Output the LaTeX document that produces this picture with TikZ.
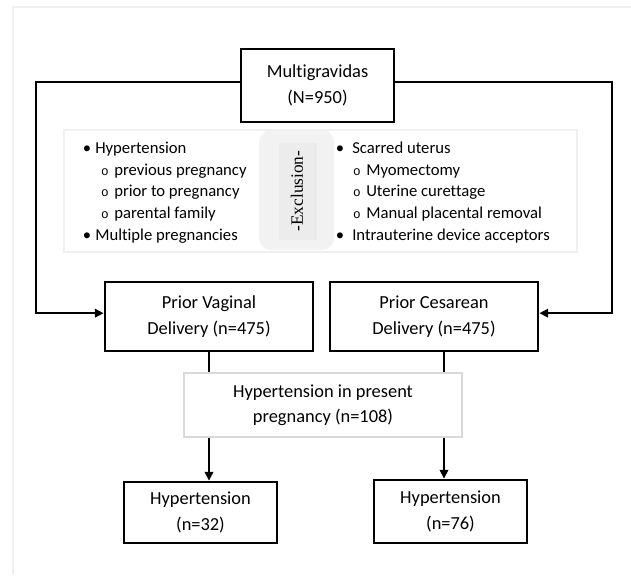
\documentclass[tikz,border=0pt]{standalone}
\usepackage{fontspec}
\setmainfont{Carlito}[Ligatures=NoCommon]
\newfontfamily\serifx{Liberation Serif}
\newfontfamily\monox{Liberation Mono}
\usetikzlibrary{arrows.meta}
\pgfdeclarelayer{bg}
\pgfsetlayers{bg,main}
\begin{document}
\begin{tikzpicture}[x=0.75pt,y=-0.75pt,
  boxtext/.style={font=\fontsize{13.8}{19}\selectfont, align=center, inner sep=0pt},
  flowbox/.style={boxtext, draw=black, line width=2.2pt, fill=white},
  graybox/.style={boxtext, draw=gray!30, line width=2pt, fill=white},
  conn/.style={draw=black, line width=1.1pt},
  arr/.style={conn, -{Triangle[length=6.5pt,width=6.5pt]}},
  listtext/.style={font=\fontsize{12.5}{15}\selectfont, anchor=base west, inner sep=0pt},
  bul/.style={font=\fontsize{12.5}{15}\selectfont, anchor=base, inner sep=0pt},
  subbul/.style={font=\monox\fontsize{9.5}{10}\selectfont, anchor=base, inner sep=0pt}
]
\useasboundingbox (0,0) rectangle (631,575);
% faint frame
\draw[gray!12, line width=1.2pt] (13,575) -- (13,7) -- (631,7);

% main nodes
\node[flowbox, minimum width=114.75pt, minimum height=54.75pt] (M) at (317.5,85.5) {Multigravidas\\(N=950)};
\node[flowbox, minimum width=156pt, minimum height=51.75pt] (PV) at (209,316.5) {Prior Vaginal\\Delivery (n=475)};
\node[flowbox, minimum width=156pt, minimum height=51.75pt] (PC) at (434,316.5) {Prior Cesarean\\Delivery (n=475)};
\node[graybox, minimum width=208.5pt, minimum height=48pt] (G) at (323,405) {Hypertension in present\\pregnancy (n=108)};
\node[flowbox, minimum width=114.75pt, minimum height=45.75pt] (H1) at (200.5,512.5) {Hypertension\\(n=32)};
\node[flowbox, minimum width=114.75pt, minimum height=47.25pt] (H2) at (450.5,511.5) {Hypertension\\(n=76)};

% exclusion panel
\draw[draw=gray!12, fill=white, line width=0.8pt] (64,130) rectangle (577,252);
\fill[gray!10, rounded corners=9pt] (259,130) rectangle (334,250);
\fill[gray!15] (279,143) rectangle (317,240);
\node[font=\serifx\fontsize{13}{15}\selectfont, rotate=90, inner sep=0pt] (EX) at (297,191) {-Exclusion-};

% left list
\node[bul] (lb1) at (87,153) {•};
\node[listtext] (lt1) at (95,153) {Hypertension};
\node[subbul] (ls2) at (105,175) {o};
\node[listtext] (lt2) at (114,175) {previous pregnancy};
\node[subbul] (ls3) at (105,196) {o};
\node[listtext] (lt3) at (114,196) {prior to pregnancy};
\node[subbul] (ls4) at (105,218) {o};
\node[listtext] (lt4) at (114,218) {parental family};
\node[bul] (lb5) at (87,240) {•};
\node[listtext] (lt5) at (95,240) {Multiple pregnancies};

% right list
\node[bul] (rb1) at (340,153) {•};
\node[listtext] (rt1) at (352,153) {Scarred uterus};
\node[subbul] (rs2) at (357,175) {o};
\node[listtext] (rt2) at (366,175) {Myomectomy};
\node[subbul] (rs3) at (357,196) {o};
\node[listtext] (rt3) at (366,196) {Uterine curettage};
\node[subbul] (rs4) at (357,218) {o};
\node[listtext] (rt4) at (366,218) {Manual placental removal};
\node[bul] (rb5) at (340,240) {•};
\node[listtext] (rt5) at (352,240) {Intrauterine device acceptors};

% connectors
\coordinate (LX) at (36,0);
\coordinate (RX) at (612,0);
\coordinate (mw) at ([yshift=2.5pt]M.west);
\coordinate (me) at ([yshift=2.5pt]M.east);
\coordinate (pvw) at ([yshift=2.5pt]PV.west);
\coordinate (pce) at ([yshift=2.5pt]PC.east);
\coordinate (pc1) at ([xshift=7.5pt]PC.south);
\begin{pgfonlayer}{bg}
\draw[arr] (mw) -- (mw -| LX) |- (pvw);
\draw[arr] (me) -- (me -| RX) |- (pce);
\draw[arr] (PV.south) -- (PV.south |- H1.north);
\draw[arr] (pc1) -- (pc1 |- H2.north);
\end{pgfonlayer}
\end{tikzpicture}
\end{document}
